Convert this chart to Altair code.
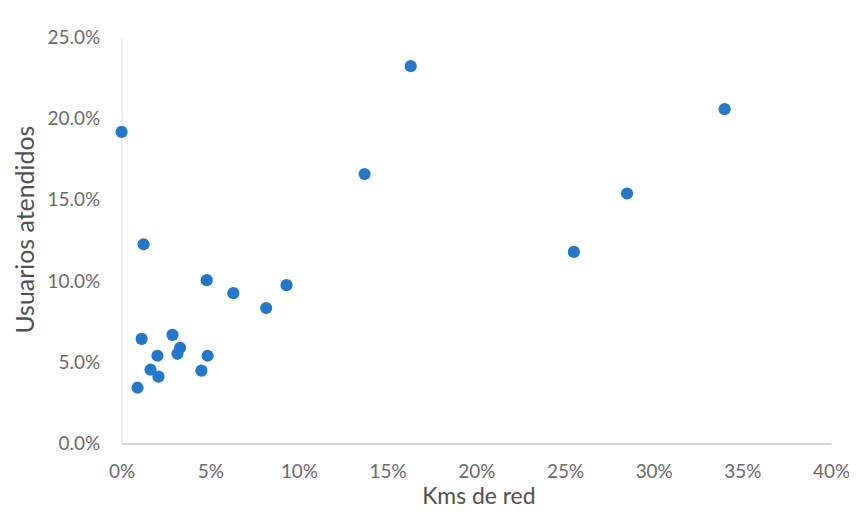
import altair as alt
import pandas as pd

kms_red = [0.000, 0.0124, 0.137, 0.163, 0.255, 0.285, 0.340,
           0.048, 0.063, 0.0815, 0.093,
           0.0113, 0.0287, 0.033, 0.0315, 0.0202, 0.0485,
           0.0163, 0.0208, 0.045, 0.009]
usuarios = [0.192, 0.1227, 0.166, 0.2325, 0.118, 0.154, 0.206,
            0.1006, 0.0926, 0.0834, 0.0975,
            0.0644, 0.0669, 0.0589, 0.0552, 0.054, 0.054,
            0.0454, 0.0411, 0.0448, 0.0343]

df = pd.DataFrame({"kms": kms_red, "usu": usuarios})

FONT = "Lato"

chart = alt.Chart(df).mark_circle(size=150, opacity=1, color="#2477c9").encode(
    x=alt.X("kms:Q",
            scale=alt.Scale(domain=[0, 0.4], nice=False),
            axis=alt.Axis(title="Kms de red", format=".0%",
                          values=[0, 0.05, 0.1, 0.15, 0.2, 0.25, 0.3, 0.35, 0.4],
                          grid=False, ticks=False, tickSize=0,
                          domainColor="#bdbdbd", domainWidth=1.2,
                          labelFont=FONT, labelFontSize=19, labelColor="#6a6a6a",
                          labelPadding=19, labelFlush=False,
                          titleFont=FONT, titleFontSize=23, titleFontWeight="normal",
                          titleColor="#505050", titleBaseline="middle",
                          titleX=358, titleY=53)),
    y=alt.Y("usu:Q",
            scale=alt.Scale(domain=[0, 0.25], nice=False),
            axis=alt.Axis(title="Usuarios atendidos", format=".1%",
                          values=[0, 0.05, 0.1, 0.15, 0.2, 0.25],
                          grid=False, ticks=False, tickSize=0,
                          domainColor="#dddddd", domainWidth=1,
                          labelFont=FONT, labelFontSize=19, labelColor="#6a6a6a",
                          labelPadding=22, labelFlush=False,
                          titleFont=FONT, titleFontSize=25, titleFontWeight="normal",
                          titleColor="#505050", titleBaseline="middle",
                          titleAlign="center", titleAngle=-90,
                          titleX=-96, titleY=192)),
).properties(
    width=712, height=407,
    autosize=alt.AutoSizeParams(type="none"),
    padding={"left": 114, "top": 29, "right": 18, "bottom": 66},
).configure(background="white").configure_view(strokeWidth=0, stroke="transparent")

chart.save("out.html", embed_options={"renderer": "svg", "actions": False})
